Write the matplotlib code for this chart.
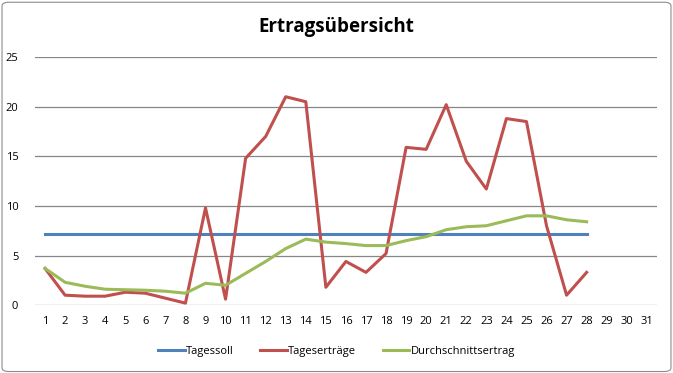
import matplotlib
matplotlib.use("Agg")
import matplotlib.pyplot as plt
from matplotlib.patches import FancyBboxPatch

days = list(range(1, 32))
n_data = 28
tagessoll = [7.2] * n_data
tagesertraege = [3.7, 1.0, 0.9, 0.9, 1.3, 1.2, 0.7, 0.2, 9.8, 0.6,
                 14.8, 17.0, 21.0, 20.5, 1.8, 4.4, 3.3, 5.2, 15.9, 15.7,
                 20.2, 14.5, 11.7, 18.8, 18.5, 8.0, 1.0, 3.3]
durchschnitt = [3.7, 2.3, 1.9, 1.6, 1.55, 1.5, 1.4, 1.2, 2.2, 2.0,
                3.2, 4.4, 5.7, 6.65, 6.35, 6.2, 6.0, 6.0, 6.5, 6.9,
                7.6, 7.9, 8.0, 8.5, 9.0, 9.0, 8.6, 8.4]
yticks = [0, 5, 10, 15, 20, 25]

plt.rcParams['font.family'] = ['Open Sans', 'DejaVu Sans']

fig = plt.figure(figsize=(6.73, 3.73), dpi=100)
fig.patches.append(FancyBboxPatch((0.003, 0.004), 0.994, 0.99,
                                  boxstyle="round,pad=0,rounding_size=0.01",
                                  transform=fig.transFigure, fill=False,
                                  edgecolor="#8c8c8c", linewidth=0.8))
ax = fig.add_axes([0.052, 0.182, 0.924, 0.665])

x = days[:n_data]
ax.plot(x, tagessoll, color="#4F81BD", lw=2.2, label="Tagessoll")
ax.plot(x, tagesertraege, color="#C0504D", lw=2.2, label="Tageserträge")
ax.plot(x, durchschnitt, color="#9BBB59", lw=2.2, label="Durchschnittsertrag")

ax.set_xlim(0.5, 31.5)
ax.set_ylim(0, 25)
ax.set_yticks(yticks)
ax.set_xticks(days)
ax.set_xticklabels([str(d) for d in days])
ax.yaxis.grid(True, color="#868686", lw=0.9)
ax.set_axisbelow(True)
for s in ax.spines.values():
    s.set_visible(False)
ax.tick_params(axis='both', length=0, labelsize=8, colors="black")
ax.tick_params(axis='x', pad=8)
ax.tick_params(axis='y', pad=12)

fig.text(0.5, 0.928, "Ertragsübersicht", ha="center", va="center",
         fontsize=13.5, fontweight="bold")

leg = fig.legend(loc="center", bbox_to_anchor=(0.5, 0.058), ncol=3, frameon=False,
                 fontsize=8, handlelength=2.4, handletextpad=0.1, columnspacing=2.4)

fig.savefig("out.png", dpi=100)
